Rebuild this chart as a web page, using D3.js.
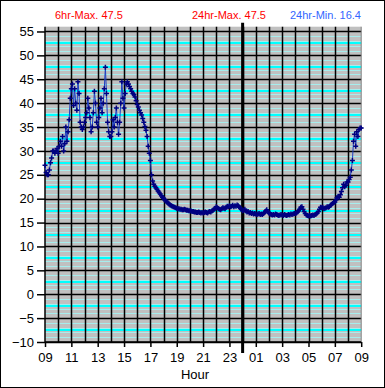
<!DOCTYPE html>
<html><head><meta charset="utf-8">
<script src="https://cdn.jsdelivr.net/npm/d3@7"></script>
<style>
body{margin:0;background:#fff}
svg{display:block}
text{font-family:Arial,"Liberation Sans",sans-serif}
</style>
</head><body>
<svg id="c" width="385" height="388"></svg>
<script>
// ---- data ----
const hourLabels = ["09","11","13","15","17","19","21","23","01","03","05","07","09"];
const yTicks = [-10,-5,0,5,10,15,20,25,30,35,40,45,50,55];
const titleTexts = ["6hr-Max. 47.5","24hr-Max. 47.5","24hr-Min. 16.4"];
const startHour = 9;          // 09:00
const stepMinutes = 5;        // sampling interval of temps
const temps = [
  27,25.5,25,25,26,27.5,28.5,30,30,29.5,30,30.5,            // 09
  29.5,31,32,31,33,30,31.5,35,32,34,36.5,41,                // 10
  43,44,39.5,43,40,38.5,44.5,42,36,35,34.5,35,              // 11
  36,37,38,41,39,37,34,35,38,42.5,40,36,                    // 12
  35,37,39,41,38,40,43,47.5,42,36,34,33,                    // 13
  33,34,36.5,35,37,39,36,33.5,36,40,44.5,41,                // 14
  39,42,44,44.5,44,43.5,43,42.5,42,41.8,41.3,40.5,          // 15
  39.7,39.2,38.5,38,37.5,36.8,36,35.1,34.3,33,31,29.5,      // 16
  28,25,23.7,23,22.6,22.3,22,21.6,21.3,21,20.6,20.3,        // 17
  20.1,19.8,19.5,19.3,19.1,18.9,18.7,18.5,18.4,18.3,18.2,18.1, // 18
  18.0,17.9,17.9,17.8,17.8,17.7,17.7,17.8,17.7,17.6,17.6,17.5, // 19
  17.5,17.4,17.3,17.3,17.2,17.2,17.1,17.1,17.2,17.1,17.0,17.1, // 20
  17.0,17.1,17.2,17.1,17.0,17.2,17.3,17.2,17.4,17.6,17.8,18.0, // 21
  18.3,18.1,17.9,17.8,17.7,17.9,18.1,18.0,17.9,18.2,18.4,18.3, // 22
  18.5,18.3,18.4,18.6,18.3,18.5,18.4,18.7,18.5,18.2,18.0,17.8, // 23
  17.5,17.6,17.8,17.4,17.2,17.3,17.0,17.1,16.9,17.0,16.8,16.9, // 00
  16.8,16.7,16.8,16.9,16.7,16.8,16.7,16.9,17.1,17.4,17.7,17.3, // 01
  17.0,16.8,16.7,16.6,16.7,16.6,16.8,16.7,16.6,16.5,16.6,16.7, // 02
  16.6,16.5,16.7,16.6,16.5,16.6,16.7,16.6,16.8,16.7,16.8,16.9, // 03
  16.9,17.0,17.2,17.5,17.8,18.2,18.3,17.8,17.3,16.9,16.6,16.5, // 04
  16.4,16.5,16.4,16.5,16.6,16.5,16.7,16.8,17.0,17.3,17.8,18.2, // 05
  18.1,18.2,17.9,18.0,18.1,18.3,18.2,18.3,18.6,18.8,19.0,19.2, // 06
  19.3,19.7,20.2,20.5,20.3,20.8,21.5,22.3,23.0,22.5,22.8,23.5, // 07
  23.5,24,24.5,26,28,32,33.5,31,34,33,34.5,34.8,            // 08
  34.8                                                      // 09
];

// ---- chart ----
const svg = d3.select("#c");
const L = 45, R = 361.2, B = 342, T = 26.7;
const x = d3.scaleLinear().domain([0, 24]).range([L, R]);
const y = d3.scaleLinear().domain([-10, 56]).range([B, T]);
const snap = v => Math.round(v) + 0.5;

svg.append("rect").attr("x",0.5).attr("y",0.5).attr("width",384).attr("height",387)
  .attr("fill","#fff").attr("stroke","#000");

// plot background
svg.append("rect").attr("x",L).attr("y",T).attr("width",R-L).attr("height",B-T).attr("fill","#c0c0c0");

// minor horizontal gridlines: pale at each unit, bright cyan mid-band
const paleMinor = d3.range(-9, 56).filter(v => v % 5 !== 0);
svg.append("g").selectAll("line").data(paleMinor).join("line")
  .attr("x1",L).attr("x2",R).attr("y1",d=>snap(y(d))).attr("y2",d=>snap(y(d)))
  .attr("stroke","#a6eded").attr("stroke-width",1);
const brightMinor = d3.range(-7.5, 56, 5);
svg.append("g").selectAll("line").data(brightMinor).join("line")
  .attr("x1",L).attr("x2",R).attr("y1",d=>Math.round(y(d))).attr("y2",d=>Math.round(y(d)))
  .attr("stroke","#00ffff").attr("stroke-width",2);

// major horizontal gridlines
svg.append("g").selectAll("line").data(yTicks).join("line")
  .attr("x1",L).attr("x2",R).attr("y1",d=>snap(y(d))).attr("y2",d=>snap(y(d)))
  .attr("stroke","#000").attr("stroke-width",1.5);

// vertical gridlines every hour
svg.append("g").selectAll("line").data(d3.range(1, 24)).join("line")
  .attr("x1",d=>snap(x(d))).attr("x2",d=>snap(x(d))).attr("y1",T).attr("y2",B)
  .attr("stroke","#000").attr("stroke-width",1.5);

// right border of plot
svg.append("line").attr("x1",R).attr("x2",R).attr("y1",T).attr("y2",B).attr("stroke","#808080");

// axes
const yAxis = d3.axisLeft(y).tickValues(yTicks).tickSize(8).tickPadding(3).tickFormat(d3.format("d"));
const gy = svg.append("g").attr("transform",`translate(${L},0)`).call(yAxis);
gy.select(".domain").remove();
gy.selectAll("line").attr("stroke","#000").attr("stroke-width",1.5);
gy.selectAll("text").attr("font-size",13).attr("fill","#000").attr("font-family","Arial, 'Liberation Sans', sans-serif");
svg.append("line").attr("x1",L).attr("x2",L).attr("y1",T).attr("y2",B+1).attr("stroke","#000").attr("stroke-width",1.5);

const xAxis = d3.axisBottom(x).tickValues(d3.range(0, 25, 2)).tickSize(5).tickPadding(6)
  .tickFormat((d,i) => hourLabels[i]);
const gx = svg.append("g").attr("transform",`translate(0,${B})`).call(xAxis);
gx.select(".domain").remove();
gx.selectAll("line").attr("stroke","#000").attr("stroke-width",1.5);
gx.selectAll("text").attr("font-size",13).attr("fill","#000").attr("font-family","Arial, 'Liberation Sans', sans-serif");
svg.append("line").attr("x1",L).attr("x2",R).attr("y1",B).attr("y2",B).attr("stroke","#000").attr("stroke-width",1.5);

// midnight line
svg.append("line").attr("x1",x(15)).attr("x2",x(15)).attr("y1",T-4).attr("y2",B+11)
  .attr("stroke","#000").attr("stroke-width",3);

// data
const pts = temps.map((v,i) => [i*stepMinutes/60, v]);
svg.append("path").datum(pts)
  .attr("d", d3.line().x(d=>x(d[0])).y(d=>y(d[1])))
  .attr("fill","none").attr("stroke","#1f3fc0").attr("stroke-width",1);
svg.append("g").selectAll("path").data(pts).join("path")
  .attr("transform",d=>`translate(${x(d[0])},${y(d[1])})`)
  .attr("d","M-2.5,0H2.5M0,-2.5V2.5").attr("stroke","#000080").attr("stroke-width",1.5).attr("fill","none");

// titles
const titleX = [55, 192, 290];
const titleColors = ["#ff0000","#ff0000","#3366ff"];
svg.append("g").selectAll("text").data(titleTexts).join("text")
  .attr("x",(d,i)=>titleX[i]).attr("y",19).attr("font-size",11)
  .attr("fill",(d,i)=>titleColors[i]).text(d=>d);

// x axis title
svg.append("text").attr("x",195).attr("y",379).attr("text-anchor","middle")
  .attr("font-size",13).attr("fill","#000").text("Hour");
</script>
</body></html>
